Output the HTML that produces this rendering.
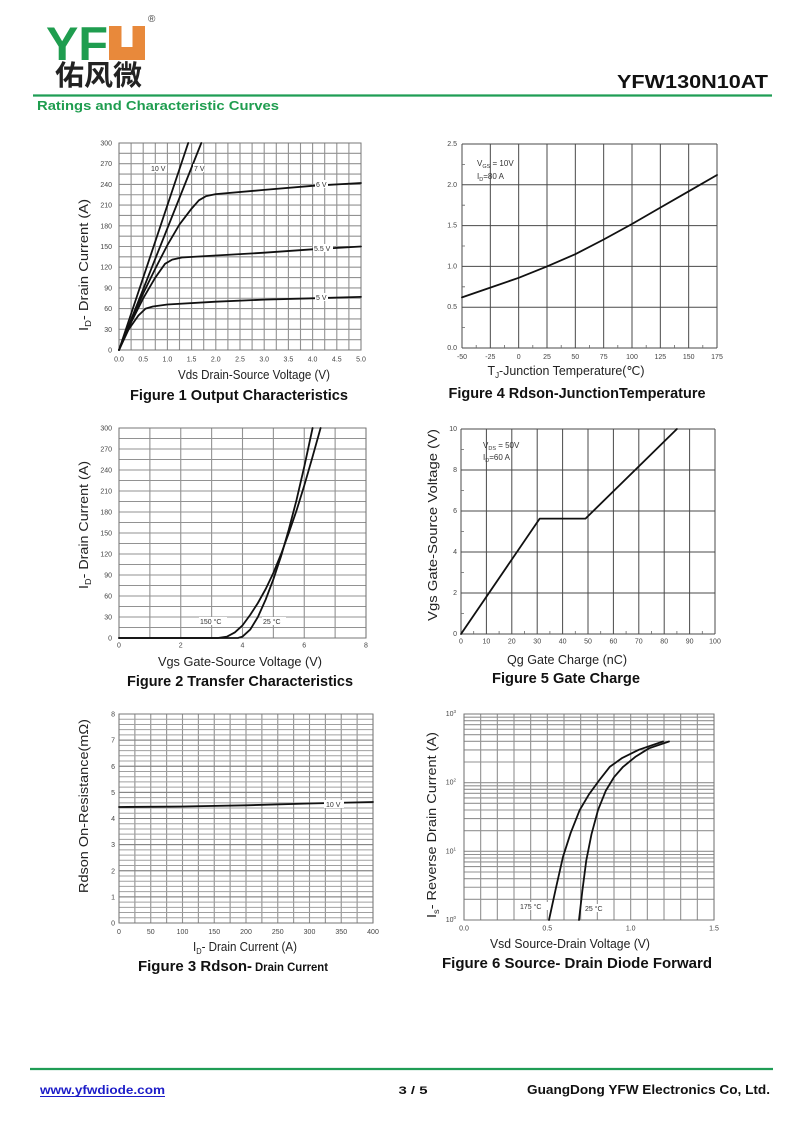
<!DOCTYPE html>
<html><head><meta charset="utf-8"><style>
html,body{margin:0;padding:0;background:#fff;}
svg{display:block;}
.t{font-family:"Liberation Sans",Arial,sans-serif;}
.tk{font-family:"Liberation Sans",Arial,sans-serif;font-size:7px;fill:#444;}
.ax{font-family:"Liberation Sans",Arial,sans-serif;font-size:12.5px;fill:#222;}
.cap{font-family:"Liberation Sans",Arial,sans-serif;font-size:15px;font-weight:bold;fill:#111;}
.cv{fill:none;stroke:#111;stroke-width:1.8;stroke-linejoin:round;stroke-linecap:round;}
.g1{fill:none;stroke:#929292;stroke-width:1.1;}
.g2{fill:none;stroke:#4a4a4a;stroke-width:1;}
.lb{font-family:"Liberation Sans",Arial,sans-serif;font-size:7px;fill:#333;}
</style></head><body>
<svg width="800" height="1130" viewBox="0 0 800 1130" xmlns="http://www.w3.org/2000/svg">
<rect width="800" height="1130" fill="#fff"/>

<!-- HEADER -->
<text x="46" y="60" class="t" font-size="47" font-weight="bold" fill="#1f9d4f" textLength="62" lengthAdjust="spacingAndGlyphs">YF</text>
<rect x="109" y="26" width="36" height="34" fill="#e8893b"/>
<rect x="121.5" y="26" width="11" height="21" fill="#fff"/>
<text x="148" y="22" class="t" font-size="10" fill="#444">®</text>
<text x="55" y="85" font-family="'Liberation Sans','Noto Sans CJK SC',sans-serif" font-size="28" font-weight="bold" fill="#222" textLength="87" lengthAdjust="spacingAndGlyphs">佑风微</text>
<text x="617" y="88" class="t" font-size="18" font-weight="bold" fill="#111" textLength="151" lengthAdjust="spacingAndGlyphs">YFW130N10AT</text>
<line x1="33" y1="95.5" x2="772" y2="95.5" stroke="#1f9d55" stroke-width="2.2"/>
<text x="37" y="110" class="t" font-size="13" font-weight="bold" fill="#1f9d4f" textLength="242" lengthAdjust="spacingAndGlyphs">Ratings and Characteristic Curves</text>

<!-- FIGURE 1 -->
<path class="g1" d="M119,143v207m12.1,-207v207m12.1,-207v207m12.1,-207v207m12.1,-207v207m12.1,-207v207m12.1,-207v207m12.1,-207v207m12.1,-207v207m12.1,-207v207m12.1,-207v207m12.1,-207v207m12.1,-207v207m12.1,-207v207m12.1,-207v207m12.1,-207v207m12.1,-207v207m12.1,-207v207m12.1,-207v207m12.1,-207v207"/>
<path class="g1" d="M119,143h242m-242,10.35h242m-242,10.35h242m-242,10.35h242m-242,10.35h242m-242,10.35h242m-242,10.35h242m-242,10.35h242m-242,10.35h242m-242,10.35h242m-242,10.35h242m-242,10.35h242m-242,10.35h242m-242,10.35h242m-242,10.35h242m-242,10.35h242m-242,10.35h242m-242,10.35h242m-242,10.35h242m-242,10.35h242m-242,10.35h242"/>
<rect x="119" y="143" width="242" height="207" fill="none" stroke="#777" stroke-width="1"/>
<g class="tk" text-anchor="end">
<text x="112" y="352.5">0</text><text x="112" y="331.8">30</text><text x="112" y="311.1">60</text><text x="112" y="290.4">90</text><text x="112" y="269.7">120</text><text x="112" y="249">150</text><text x="112" y="228.3">180</text><text x="112" y="207.6">210</text><text x="112" y="186.9">240</text><text x="112" y="166.2">270</text><text x="112" y="145.5">300</text>
</g>
<g class="tk" text-anchor="middle">
<text x="119" y="361.5">0.0</text><text x="143.2" y="361.5">0.5</text><text x="167.4" y="361.5">1.0</text><text x="191.6" y="361.5">1.5</text><text x="215.8" y="361.5">2.0</text><text x="240" y="361.5">2.5</text><text x="264.2" y="361.5">3.0</text><text x="288.4" y="361.5">3.5</text><text x="312.6" y="361.5">4.0</text><text x="336.8" y="361.5">4.5</text><text x="361" y="361.5">5.0</text>
</g>
<polyline class="cv" points="119,350 188.2,143"/>
<polyline class="cv" points="119,350 201.3,143"/>
<polyline class="cv" points="119,350 131.1,321 143.2,293.4 155.3,268.6 167.4,245.1 179.5,224.4 191.6,208.6 198.9,200.3 206.1,196.1 215.8,194.1 264.2,189.9 312.6,185.8 361,183"/>
<polyline class="cv" points="119,350 131.1,322.4 143.2,298.3 155.3,277.6 165,263.8 172.2,259.6 181.9,257.5 215.8,255.5 264.2,252.7 312.6,249.3 361,246.5"/>
<polyline class="cv" points="119,350 128.7,329.3 138.4,315.5 145.6,308.6 152.9,306.5 167.4,304.5 215.8,301.7 264.2,299.6 312.6,298.3 361,296.9"/>
<g class="lb">
<rect x="150" y="164" width="17" height="8" fill="#fff"/><text x="151" y="171">10 V</text>
<rect x="193" y="164" width="11" height="8" fill="#fff"/><text x="194" y="171">7 V</text>
<rect x="315" y="180" width="13" height="8" fill="#fff"/><text x="316" y="187">6 V</text>
<rect x="313" y="244" width="20" height="8" fill="#fff"/><text x="314" y="251">5.5 V</text>
<rect x="315" y="293" width="13" height="8" fill="#fff"/><text x="316" y="300">5 V</text>
</g>
<text x="254" y="379" class="ax" text-anchor="middle" textLength="152" lengthAdjust="spacingAndGlyphs">Vds Drain-Source Voltage (V)</text>
<text x="239" y="400" class="cap" text-anchor="middle" textLength="218" lengthAdjust="spacingAndGlyphs">Figure 1 Output Characteristics</text>
<text class="ax" text-anchor="middle" transform="translate(88,265) rotate(-90)" textLength="132" lengthAdjust="spacingAndGlyphs">I<tspan font-size="8" dy="3">D</tspan><tspan dy="-3">- Drain Current (A)</tspan></text>

<!-- FIGURE 4 -->
<path class="g2" d="M462,144v204m28.333,-204v204m28.333,-204v204m28.333,-204v204m28.333,-204v204m28.333,-204v204m28.333,-204v204m28.333,-204v204m28.333,-204v204m28.333,-204v204"/>
<path class="g2" d="M462,144h255m-255,40.8h255m-255,40.8h255m-255,40.8h255m-255,40.8h255m-255,40.8h255"/>
<path stroke="#666" stroke-width="0.8" d="M462,327.6h3M462,286.8h3M462,246h3M462,205.2h3M462,164.4h3M476.2,348v-3M504.5,348v-3M532.8,348v-3M561.2,348v-3M589.5,348v-3M617.8,348v-3M646.2,348v-3M674.5,348v-3M702.8,348v-3"/>
<g class="tk" font-size="6" text-anchor="end">
<text x="457" y="350">0.0</text><text x="457" y="309.2">0.5</text><text x="457" y="268.4">1.0</text><text x="457" y="227.6">1.5</text><text x="457" y="186.8">2.0</text><text x="457" y="146">2.5</text>
</g>
<g class="tk" font-size="6" text-anchor="middle">
<text x="462" y="359">-50</text><text x="490.3" y="359">-25</text><text x="518.7" y="359">0</text><text x="547" y="359">25</text><text x="575.3" y="359">50</text><text x="603.7" y="359">75</text><text x="632" y="359">100</text><text x="660.3" y="359">125</text><text x="688.7" y="359">150</text><text x="717" y="359">175</text>
</g>
<polyline class="cv" points="462,297.4 490.3,287.6 518.7,277.8 547,266.4 575.3,254.2 603.7,239.5 632,224 660.3,207.6 688.7,191.3 717,175"/>
<text x="477" y="166" class="t" font-size="8" fill="#333">V<tspan font-size="5.5" dy="2">GS</tspan><tspan dy="-2"> = 10V</tspan></text>
<text x="477" y="179" class="t" font-size="8" fill="#333">I<tspan font-size="5.5" dy="2">D</tspan><tspan dy="-2">=80 A</tspan></text>
<text x="566" y="375" class="ax" text-anchor="middle" textLength="157" lengthAdjust="spacingAndGlyphs">T<tspan font-size="8" dy="3">J</tspan><tspan dy="-3">-Junction Temperature(℃)</tspan></text>
<text x="577" y="398" class="cap" text-anchor="middle" textLength="257" lengthAdjust="spacingAndGlyphs">Figure 4 Rdson-JunctionTemperature</text>

<!-- FIGURE 2 -->
<path class="g1" d="M119,428v210m30.875,-210v210m30.875,-210v210m30.875,-210v210m30.875,-210v210m30.875,-210v210m30.875,-210v210m30.875,-210v210m30.875,-210v210"/>
<path class="g1" d="M119,428h247m-247,10.5h247m-247,10.5h247m-247,10.5h247m-247,10.5h247m-247,10.5h247m-247,10.5h247m-247,10.5h247m-247,10.5h247m-247,10.5h247m-247,10.5h247m-247,10.5h247m-247,10.5h247m-247,10.5h247m-247,10.5h247m-247,10.5h247m-247,10.5h247m-247,10.5h247m-247,10.5h247m-247,10.5h247m-247,10.5h247"/>
<rect x="119" y="428" width="247" height="210" fill="none" stroke="#777" stroke-width="1"/>
<g class="tk" text-anchor="end">
<text x="112" y="640.5">0</text><text x="112" y="619.5">30</text><text x="112" y="598.5">60</text><text x="112" y="577.5">90</text><text x="112" y="556.5">120</text><text x="112" y="535.5">150</text><text x="112" y="514.5">180</text><text x="112" y="493.5">210</text><text x="112" y="472.5">240</text><text x="112" y="451.5">270</text><text x="112" y="430.5">300</text>
</g>
<g class="tk" text-anchor="middle">
<text x="119" y="647.5">0</text><text x="180.75" y="647.5">2</text><text x="242.5" y="647.5">4</text><text x="304.25" y="647.5">6</text><text x="366" y="647.5">8</text>
</g>
<polyline class="cv" points="119,638 217.8,638 227.1,636.6 234.8,632.4 242.5,625.4 250.2,614.9 257.9,603 265.7,589 273.4,572.9 281.1,554 288.8,533 296.5,510.6 304.3,485.4 312,458.8 320.6,428"/>
<polyline class="cv" points="119,638 237.9,638 242.5,636.6 250.2,629.6 257.9,617 265.7,599.5 273.4,579.2 281.1,556.1 288.8,529.5 296.5,500.1 304.3,466.5 312.6,428"/>
<g class="lb">
<rect x="199" y="617" width="28" height="8" fill="#fff"/><text x="200" y="624">150 °C</text>
<rect x="262" y="617" width="24" height="8" fill="#fff"/><text x="263" y="624">25 °C</text>
</g>
<text x="240" y="666" class="ax" text-anchor="middle" textLength="164" lengthAdjust="spacingAndGlyphs">Vgs Gate-Source Voltage (V)</text>
<text x="240" y="686" class="cap" text-anchor="middle" textLength="226" lengthAdjust="spacingAndGlyphs">Figure 2 Transfer Characteristics</text>
<text class="ax" text-anchor="middle" transform="translate(88,525) rotate(-90)" textLength="128" lengthAdjust="spacingAndGlyphs">I<tspan font-size="8" dy="3">D</tspan><tspan dy="-3">- Drain Current (A)</tspan></text>

<!-- FIGURE 5 -->
<path class="g2" d="M461,429v205m25.4,-205v205m25.4,-205v205m25.4,-205v205m25.4,-205v205m25.4,-205v205m25.4,-205v205m25.4,-205v205m25.4,-205v205m25.4,-205v205m25.4,-205v205"/>
<path class="g2" d="M461,429h254m-254,41h254m-254,41h254m-254,41h254m-254,41h254m-254,41h254"/>
<path stroke="#666" stroke-width="0.8" d="M461,613.5h3M461,572.5h3M461,531.5h3M461,490.5h3M461,449.5h3M473.7,634v-3M499.1,634v-3M524.5,634v-3M549.9,634v-3M575.3,634v-3M600.7,634v-3M626.1,634v-3M651.5,634v-3M676.9,634v-3M702.3,634v-3"/>
<g class="tk" font-size="6.5" text-anchor="end">
<text x="457" y="636">0</text><text x="457" y="595">2</text><text x="457" y="554">4</text><text x="457" y="513">6</text><text x="457" y="472">8</text><text x="457" y="431">10</text>
</g>
<g class="tk" font-size="6.5" text-anchor="middle">
<text x="461" y="643.5">0</text><text x="486.4" y="643.5">10</text><text x="511.8" y="643.5">20</text><text x="537.2" y="643.5">30</text><text x="562.6" y="643.5">40</text><text x="588" y="643.5">50</text><text x="613.4" y="643.5">60</text><text x="638.8" y="643.5">70</text><text x="664.2" y="643.5">80</text><text x="689.6" y="643.5">90</text><text x="715" y="643.5">100</text>
</g>
<polyline class="cv" points="461,634 539.7,518.6 585.5,518.6 676.9,429"/>
<text x="483" y="448" class="t" font-size="8" fill="#333">V<tspan font-size="5.5" dy="2">DS</tspan><tspan dy="-2"> = 50V</tspan></text>
<text x="483" y="460" class="t" font-size="8" fill="#333">I<tspan font-size="5.5" dy="2">D</tspan><tspan dy="-2">=60 A</tspan></text>
<text x="567" y="664" class="ax" text-anchor="middle" textLength="120" lengthAdjust="spacingAndGlyphs">Qg Gate Charge (nC)</text>
<text x="566" y="683" class="cap" text-anchor="middle" textLength="148" lengthAdjust="spacingAndGlyphs">Figure 5 Gate Charge</text>
<text class="ax" text-anchor="middle" transform="translate(437,525) rotate(-90)" textLength="192" lengthAdjust="spacingAndGlyphs">Vgs Gate-Source Voltage (V)</text>

<!-- FIGURE 3 -->
<path class="g1" d="M119,714v209m15.875,-209v209m15.875,-209v209m15.875,-209v209m15.875,-209v209m15.875,-209v209m15.875,-209v209m15.875,-209v209m15.875,-209v209m15.875,-209v209m15.875,-209v209m15.875,-209v209m15.875,-209v209m15.875,-209v209m15.875,-209v209m15.875,-209v209m15.875,-209v209"/>
<path fill="none" stroke="#a0a0a0" stroke-width="1" d="M119,714h254m-254,5.225h254m-254,5.225h254m-254,5.225h254m-254,5.225h254m-254,5.225h254m-254,5.225h254m-254,5.225h254m-254,5.225h254m-254,5.225h254m-254,5.225h254m-254,5.225h254m-254,5.225h254m-254,5.225h254m-254,5.225h254m-254,5.225h254m-254,5.225h254m-254,5.225h254m-254,5.225h254m-254,5.225h254m-254,5.225h254m-254,5.225h254m-254,5.225h254m-254,5.225h254m-254,5.225h254m-254,5.225h254m-254,5.225h254m-254,5.225h254m-254,5.225h254m-254,5.225h254m-254,5.225h254m-254,5.225h254m-254,5.225h254m-254,5.225h254m-254,5.225h254m-254,5.225h254m-254,5.225h254m-254,5.225h254m-254,5.225h254m-254,5.225h254m-254,5.225h254"/>
<path fill="none" stroke="#808080" stroke-width="1" d="M119,740.1h254M119,766.25h254M119,792.4h254M119,818.5h254M119,844.6h254M119,870.75h254M119,896.9h254"/>
<rect x="119" y="714" width="254" height="209" fill="none" stroke="#777" stroke-width="1"/>
<g class="tk" text-anchor="end">
<text x="115" y="925.5">0</text><text x="115" y="899.4">1</text><text x="115" y="873.25">2</text><text x="115" y="847.1">3</text><text x="115" y="821">4</text><text x="115" y="794.9">5</text><text x="115" y="768.75">6</text><text x="115" y="742.6">7</text><text x="115" y="716.5">8</text>
</g>
<g class="tk" text-anchor="middle">
<text x="119" y="934">0</text><text x="150.75" y="934">50</text><text x="182.5" y="934">100</text><text x="214.25" y="934">150</text><text x="246" y="934">200</text><text x="277.75" y="934">250</text><text x="309.5" y="934">300</text><text x="341.25" y="934">350</text><text x="373" y="934">400</text>
</g>
<polyline class="cv" points="119,807 182.5,806.5 246,805.3 309.5,803.5 373,802"/>
<rect x="324" y="800" width="20" height="8" fill="#fff"/><text x="326" y="807" class="lb">10 V</text>
<text x="245" y="951" class="ax" text-anchor="middle" textLength="104" lengthAdjust="spacingAndGlyphs">I<tspan font-size="8" dy="3">D</tspan><tspan dy="-3">- Drain Current (A)</tspan></text>
<text x="138" y="971" class="cap" textLength="114" lengthAdjust="spacingAndGlyphs">Figure 3 Rdson-</text>
<text x="255" y="971" class="t" font-size="12" font-weight="bold" fill="#111" textLength="73" lengthAdjust="spacingAndGlyphs">Drain Current</text>
<text class="ax" text-anchor="middle" transform="translate(88,806) rotate(-90)" textLength="174" lengthAdjust="spacingAndGlyphs">Rdson On-Resistance(mΩ)</text>

<!-- FIGURE 6 -->
<path class="g1" d="M464,714v206m16.667,-206v206m16.667,-206v206m16.667,-206v206m16.667,-206v206m16.667,-206v206m16.667,-206v206m16.667,-206v206m16.667,-206v206m16.667,-206v206m16.667,-206v206m16.667,-206v206m16.667,-206v206m16.667,-206v206m16.667,-206v206m16.667,-206v206"/>
<path class="g1" d="M464,920h250M464,899.33h250M464,887.24h250M464,878.66h250M464,872h250M464,866.58h250M464,861.98h250M464,857.99h250M464,854.49h250M464,851.33h250M464,830.66h250M464,818.57h250M464,809.99h250M464,803.33h250M464,797.91h250M464,793.31h250M464,789.32h250M464,785.82h250M464,782.67h250M464,762h250M464,749.91h250M464,741.33h250M464,734.67h250M464,729.25h250M464,724.65h250M464,720.66h250M464,717.16h250M464,714h250"/>
<rect x="464" y="714" width="250" height="206" fill="none" stroke="#777" stroke-width="1"/>
<g class="tk" font-size="6.5" text-anchor="end">
<text x="456" y="922">10<tspan font-size="4.5" dy="-3">0</tspan></text>
<text x="456" y="853.3">10<tspan font-size="4.5" dy="-3">1</tspan></text>
<text x="456" y="784.7">10<tspan font-size="4.5" dy="-3">2</tspan></text>
<text x="456" y="716">10<tspan font-size="4.5" dy="-3">3</tspan></text>
</g>
<g class="tk" text-anchor="middle">
<text x="464" y="930.5">0.0</text><text x="547.3" y="930.5">0.5</text><text x="630.7" y="930.5">1.0</text><text x="714" y="930.5">1.5</text>
</g>
<polyline class="cv" points="549,920 555.7,889.1 563,856.8 570.7,832.8 579.7,810.1 589,794.3 599,780.6 609.7,766.9 622.3,757.9 639,749.7 663,741.5"/>
<polyline class="cv" points="579,920 582.3,891.2 586.3,860.3 591.5,834.2 598,810.1 605.7,790.9 614,777.2 623,766.9 635.7,756.6 649,748.3 669,741.5"/>
<g class="lb">
<rect x="519" y="902" width="29" height="8" fill="#fff"/><text x="520" y="909">175 °C</text>
<rect x="584" y="904" width="24" height="8" fill="#fff"/><text x="585" y="911">25 °C</text>
</g>
<text x="570" y="948" class="ax" text-anchor="middle" textLength="160" lengthAdjust="spacingAndGlyphs">Vsd Source-Drain Voltage (V)</text>
<text x="577" y="968" class="cap" text-anchor="middle" textLength="270" lengthAdjust="spacingAndGlyphs">Figure 6 Source- Drain Diode Forward</text>
<text class="ax" text-anchor="middle" transform="translate(436,825) rotate(-90)" textLength="186" lengthAdjust="spacingAndGlyphs">I<tspan font-size="8" dy="3">s</tspan><tspan dy="-3">- Reverse Drain Current (A)</tspan></text>

<!-- FOOTER -->
<line x1="30" y1="1069" x2="773" y2="1069" stroke="#1f9d55" stroke-width="2.2"/>
<text x="40" y="1094" class="t" font-size="12" font-weight="bold" fill="#1c1cc8" textLength="125" lengthAdjust="spacingAndGlyphs">www.yfwdiode.com</text>
<line x1="40" y1="1096.5" x2="165" y2="1096.5" stroke="#1c1cc8" stroke-width="1"/>
<text x="413" y="1094" class="t" font-size="11" font-weight="bold" fill="#111" text-anchor="middle" textLength="29" lengthAdjust="spacingAndGlyphs">3 / 5</text>
<text x="527" y="1094" class="t" font-size="12.5" font-weight="bold" fill="#111" textLength="243" lengthAdjust="spacingAndGlyphs">GuangDong YFW Electronics Co, Ltd.</text>
</svg>
</body></html>
